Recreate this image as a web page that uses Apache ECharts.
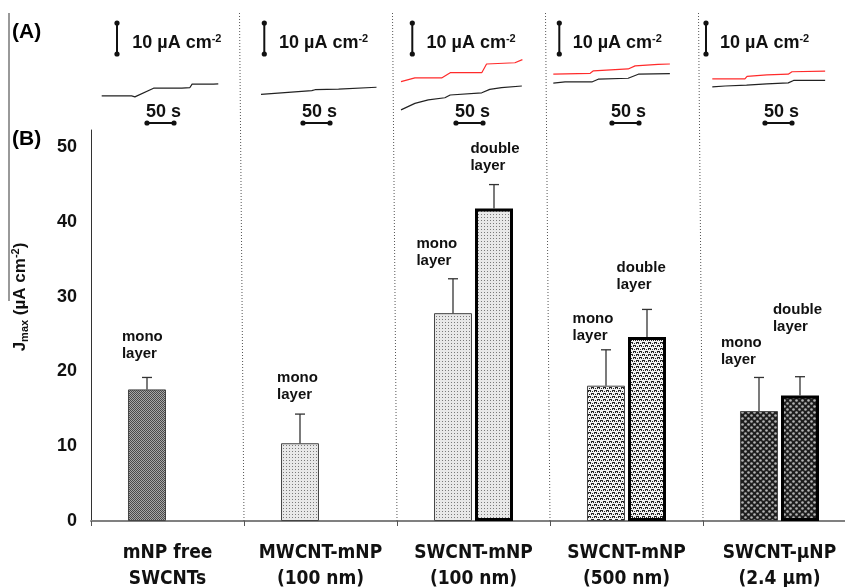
<!DOCTYPE html>
<html>
<head>
<meta charset="utf-8">
<script src="https://cdn.jsdelivr.net/npm/echarts@6/dist/echarts.min.js"></script>
<style>
  html, body { margin: 0; padding: 0; background: #fff; }
  #chart { width: 845px; height: 587px; }
</style>
</head>
<body>
<div id="chart"></div>
<script>
// ---- panel B : Jmax bars ----
var categories = ['mNP free\nSWCNTs', 'MWCNT-mNP\n(100 nm)', 'SWCNT-mNP\n(100 nm)', 'SWCNT-mNP\n(500 nm)', 'SWCNT-µNP\n(2.4 µm)'];
var monoJmax = [17.6, 10.4, 27.8, 18.1, 14.7];
var monoErrTop = [19.2, 14.3, 32.4, 22.9, 19.2];
var doubleJmax = [null, null, 41.8, 24.6, 16.8];
var doubleErrTop = [null, null, 45.0, 28.3, 19.3];
var yTicks = [0, 10, 20, 30, 40, 50];

// ---- panel A : current traces, [time s, J µA cm-2] ----
var monoTraces = [
  [[0, 6.8], [56, 6.8], [62, 6.5], [97, 9.3], [150, 9.3], [165, 9.5], [169, 10.6], [209, 10.6], [218, 10.7]],
  [[0, 7.3], [95, 8.5], [101, 8.8], [145, 9.0], [216, 9.6]],
  [[0, 2.3], [26, 4.4], [51, 5.5], [82, 6.2], [92, 7.1], [151, 7.8], [166, 8.9], [188, 9.5], [226, 10.0]],
  [[0, 10.9], [22, 11.3], [72, 11.3], [84, 12.2], [140, 12.5], [159, 13.8], [218, 14.0]],
  [[0, 9.7], [24, 10.0], [64, 10.3], [102, 10.7], [142, 11.0], [152, 11.8], [211, 11.8]]
];
var doubleTraces = [
  null,
  null,
  [[0, 11.4], [26, 12.6], [76, 12.6], [92, 14.3], [151, 14.3], [160, 17.1], [213, 17.5], [227, 18.5]],
  [[0, 13.8], [69, 14.1], [75, 14.9], [140, 15.5], [153, 16.5], [196, 17.0], [218, 17.1]],
  [[0, 12.3], [61, 12.3], [65, 13.1], [102, 13.6], [142, 13.8], [149, 14.6], [211, 14.8]]
];

// ---- layout ----
var FONT = "'Liberation Sans', Arial, sans-serif";
var NARROW = "'Liberation Sans Narrow', 'Arial Narrow', 'DejaVu Sans Condensed', sans-serif";
var BAR_W = 38, BAR_GAP = 3;
var SLOT = (BAR_W + BAR_GAP) / 2;
var SEP_LEAN = 4.5; // separators lean a little to the left at the top (scan)
// annotation anchors: y in data units, x offset from category centre (px)
var monoLabelY = [23.5, 18.0, 36.0, 25.9, 22.7];
var monoLabelDx = [-45.6, -43.4, -57.1, -53.9, -58.6];
var doubleLabelY = [null, null, 48.7, 32.7, 27.1];
var doubleLabelDx = [null, null, -3.1, -9.9, -6.6];
var traceLeft = [101.7, 261, 401, 553.3, 712.3];
var vbarX = [117, 264.3, 412.3, 559.3, 706];
var unitTextX = [132.3, 279, 426.5, 572.7, 720];
var secTextX = [146, 302, 455, 611, 764];

function tile(size, draw) {
  var c = document.createElement('canvas');
  c.width = size; c.height = size;
  draw(c.getContext('2d'), size);
  return { image: c, repeat: 'repeat' };
}
function lightDots(g) {
  g.fillStyle = '#e8e8e8'; g.fillRect(0, 0, 3, 3);
  g.fillStyle = '#7a7a7a'; g.fillRect(1, 1, 1, 1);
}
var patterns = [
  // dark fine hatch
  tile(2, function (g) {
    g.fillStyle = '#a8a8a8'; g.fillRect(0, 0, 2, 2);
    g.fillStyle = '#4a4a4a'; g.fillRect(0, 0, 1, 1); g.fillRect(1, 1, 1, 1);
  }),
  tile(3, lightDots),
  tile(3, lightDots),
  // white with dark squiggles
  tile(6, function (g) {
    g.fillStyle = '#f2f2f2'; g.fillRect(0, 0, 6, 6);
    g.fillStyle = '#262626';
    g.fillRect(0, 0, 3, 1); g.fillRect(2, 1, 1, 1); g.fillRect(0, 1, 1, 1);
    g.fillRect(3, 3, 3, 1); g.fillRect(5, 4, 1, 1); g.fillRect(3, 4, 1, 1);
    g.fillRect(4, 1, 1, 1); g.fillRect(1, 4, 1, 1);
  }),
  // dark with light circles
  tile(6, function (g) {
    g.fillStyle = '#1e1e1e'; g.fillRect(0, 0, 6, 6);
    g.fillStyle = '#b4b4b4';
    g.beginPath(); g.arc(1.5, 1.5, 1.3, 0, Math.PI * 2); g.fill();
    g.beginPath(); g.arc(4.5, 4.5, 1.3, 0, Math.PI * 2); g.fill();
  })
];

var chart = echarts.init(document.getElementById('chart'), null, { renderer: 'canvas' });

var grids = [
  { left: 91, width: 765, top: 130, bottom: 66, outerBoundsMode: 'none', containLabel: false },   // bars
  { left: 91, width: 765, top: 13, bottom: 66, outerBoundsMode: 'none', containLabel: false }     // category separators
];
var xAxes = [
  {
    type: 'category', gridIndex: 0, data: categories,
    axisLine: { lineStyle: { color: '#808080', width: 2 } },
    axisTick: { show: true, interval: 0, length: 5, lineStyle: { color: '#555', width: 1 } },
    axisLabel: { interval: 0, margin: 19, color: '#111', fontFamily: NARROW, fontWeight: 'bold', fontSize: 19, lineHeight: 26 },
    splitLine: { show: false }
  },
  { type: 'value', gridIndex: 1, min: 0, max: categories.length, show: false }
];
var yAxes = [
  {
    type: 'value', gridIndex: 0, min: 0, max: 52.3, interval: 10,
    axisLine: { show: true, lineStyle: { color: '#333', width: 1 } },
    axisTick: { show: false },
    splitLine: { show: false },
    axisLabel: {
      margin: 14, color: '#111', fontFamily: FONT, fontWeight: 'bold', fontSize: 18,
      formatter: function (v) { return yTicks.indexOf(v) >= 0 ? String(v) : ''; }
    }
  },
  { type: 'value', gridIndex: 1, min: 0, max: 1, show: false }
];

var series = [
  {
    type: 'bar', name: 'mono layer', xAxisIndex: 0, yAxisIndex: 0,
    barWidth: BAR_W, barGap: (BAR_GAP / BAR_W * 100).toFixed(1) + '%',
    data: monoJmax.map(function (v, i) {
      return { value: v, itemStyle: { color: patterns[i], borderColor: '#444', borderWidth: 1 } };
    })
  },
  {
    type: 'bar', name: 'double layer', xAxisIndex: 0, yAxisIndex: 0,
    barWidth: BAR_W,
    data: doubleJmax.map(function (v, i) {
      return { value: v, itemStyle: { color: patterns[i], borderColor: '#000', borderWidth: 3 } };
    })
  }
];

// dotted separators between the conditions (both panels)
var sepData = [];
for (var b = 1; b < categories.length; b++) sepData.push([b]);
series.push({
  type: 'custom', xAxisIndex: 1, yAxisIndex: 1, z: 1, silent: true,
  data: sepData,
  renderItem: function (params, api) {
    var lo = api.coord([api.value(0), 0]);
    var hi = api.coord([api.value(0), 1]);
    return {
      type: 'line',
      shape: { x1: lo[0], y1: lo[1], x2: hi[0] - SEP_LEAN, y2: hi[1] },
      style: { stroke: '#555', lineWidth: 1, lineDash: [1, 2] }
    };
  }
});

// error bars (upper whisker only)
var errData = [];
monoJmax.forEach(function (v, i) { errData.push([i, v, monoErrTop[i], -1]); });
doubleJmax.forEach(function (v, i) { if (v != null) errData.push([i, v, doubleErrTop[i], 1]); });
series.push({
  type: 'custom', xAxisIndex: 0, yAxisIndex: 0, z: 5,
  data: errData,
  renderItem: function (params, api) {
    var base = api.coord([api.value(0), api.value(1)]);
    var hi = api.coord([api.value(0), api.value(2)]);
    var x = base[0] + api.value(3) * SLOT;
    var st = { stroke: '#333', lineWidth: 1.3 };
    return {
      type: 'group', children: [
        { type: 'line', shape: { x1: x, y1: base[1], x2: x, y2: hi[1] }, style: st },
        { type: 'line', shape: { x1: x - 5, y1: hi[1], x2: x + 5, y2: hi[1] }, style: st }
      ]
    };
  }
});

// "mono / double layer" notes
var noteData = [];
monoLabelY.forEach(function (y, i) { noteData.push([i, y, monoLabelDx[i], 'mono\nlayer']); });
doubleLabelY.forEach(function (y, i) { if (y != null) noteData.push([i, y, doubleLabelDx[i], 'double\nlayer']); });
series.push({
  type: 'custom', xAxisIndex: 0, yAxisIndex: 0, z: 6,
  data: noteData,
  renderItem: function (params, api) {
    var p = api.coord([api.value(0), api.value(1)]);
    return {
      type: 'text',
      style: {
        x: p[0] + api.value(2), y: p[1], text: noteData[params.dataIndex][3],
        font: 'bold 15px ' + FONT, fill: '#111', align: 'left', verticalAlign: 'middle', lineHeight: 17
      }
    };
  }
});

// panel A traces, one small grid per condition
traceLeft.forEach(function (left, i) {
  var gi = grids.length;
  grids.push({ left: left, width: 123, top: 55, height: 62, outerBoundsMode: 'none', containLabel: false });
  xAxes.push({ type: 'value', gridIndex: gi, min: 0, max: 230, show: false });
  yAxes.push({ type: 'value', gridIndex: gi, min: 0, max: 20, show: false });
  series.push({
    type: 'line', xAxisIndex: gi, yAxisIndex: gi, data: monoTraces[i], symbol: 'none',
    lineStyle: { color: '#222', width: 1.2 }, silent: true
  });
  if (doubleTraces[i]) {
    series.push({
      type: 'line', xAxisIndex: gi, yAxisIndex: gi, data: doubleTraces[i], symbol: 'none',
      lineStyle: { color: '#ff2b2b', width: 1.2 }, silent: true
    });
  }
});

// scale bars + texts
var graphics = [
  { type: 'line', shape: { x1: 9, y1: 13, x2: 9, y2: 301 }, style: { stroke: '#777', lineWidth: 1.5 } },
  { type: 'text', x: 12, y: 32, style: { text: '(A)', font: 'bold 21px ' + FONT, fill: '#000', verticalAlign: 'middle' } },
  { type: 'text', x: 12, y: 139, style: { text: '(B)', font: 'bold 21px ' + FONT, fill: '#000', verticalAlign: 'middle' } },
  {
    type: 'text', x: 20, y: 297, rotation: Math.PI / 2,
    style: {
      text: '{b|J}{sub|max}{b| (µA cm}{sup|-2}{b|)}',
      align: 'center', verticalAlign: 'middle', fill: '#111',
      rich: {
        b: { font: 'bold 17px ' + FONT, fill: '#111', lineHeight: 20 },
        sub: { font: 'bold 11px ' + FONT, fill: '#111', verticalAlign: 'bottom', lineHeight: 20 },
        sup: { font: 'bold 11px ' + FONT, fill: '#111', verticalAlign: 'top', lineHeight: 20 }
      }
    }
  }
];
function dotBar(x1, y1, x2, y2) {
  var s = { stroke: '#111', lineWidth: 2 };
  graphics.push({ type: 'line', shape: { x1: x1, y1: y1, x2: x2, y2: y2 }, style: s });
  graphics.push({ type: 'circle', shape: { cx: x1, cy: y1, r: 2.6 }, style: { fill: '#111' } });
  graphics.push({ type: 'circle', shape: { cx: x2, cy: y2, r: 2.6 }, style: { fill: '#111' } });
}
for (var k = 0; k < 5; k++) {
  dotBar(vbarX[k], 23, vbarX[k], 54);
  dotBar(secTextX[k] + 1, 123, secTextX[k] + 28, 123);
  graphics.push({
    type: 'text', x: unitTextX[k], y: 43,
    style: {
      text: '{b|10 µA cm}{sup|-2}', verticalAlign: 'middle', fill: '#111',
      rich: {
        b: { font: 'bold 18px ' + FONT, fill: '#111', lineHeight: 20 },
        sup: { font: 'bold 11px ' + FONT, fill: '#111', verticalAlign: 'top', lineHeight: 20 }
      }
    }
  });
  graphics.push({
    type: 'text', x: secTextX[k], y: 112,
    style: { text: '50 s', font: 'bold 18px ' + FONT, fill: '#111', verticalAlign: 'middle' }
  });
}

chart.setOption({
  animation: false,
  backgroundColor: '#fff',
  grid: grids,
  xAxis: xAxes,
  yAxis: yAxes,
  series: series,
  graphic: graphics
});
</script>
</body>
</html>
